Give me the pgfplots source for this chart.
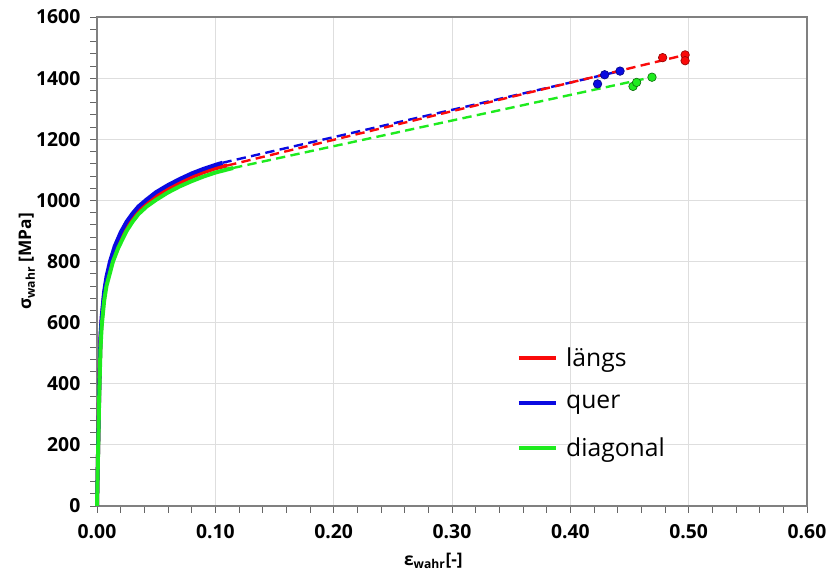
\documentclass[border=0pt]{standalone}
\usepackage{pgfplots}
\pgfplotsset{compat=1.18}
\usepackage{fontspec}
\setmainfont{Open Sans}
\definecolor{cred}{RGB}{250,10,10}
\definecolor{cblue}{RGB}{10,10,225}
\definecolor{cgreen}{RGB}{30,235,30}
\begin{document}
\begin{tikzpicture}
\begin{axis}[
  scale only axis, width=532.5pt, height=366.75pt,
  xmin=0, xmax=0.6, ymin=0, ymax=1600,
  xtick={0,0.1,...,0.6}, ytick={0,200,...,1600},
  minor tick num=4,
  xtick pos=bottom, ytick pos=left,
  axis line style={black!50, line width=1pt},
  tick style={black!60, line width=0.6pt},
  tick align=outside,
  major tick length=5pt, minor tick length=5pt,
  grid=major, major grid style={black!13, line width=0.6pt},
  /pgf/number format/assume math mode=true,
  xticklabel style={/pgf/number format/fixed, /pgf/number format/precision=2, /pgf/number format/fixed zerofill, font=\fontsize{14.5}{16}\selectfont\bfseries, yshift=-5pt},
  yticklabel style={/pgf/number format/fixed, /pgf/number format/1000 sep={}, font=\fontsize{14.5}{16}\selectfont\bfseries, xshift=-4pt},
  scaled x ticks=false,
  xlabel={\bfseries ε\textsubscript{wahr}[-]},
  ylabel={\bfseries σ\textsubscript{wahr} [MPa]},
  label style={font=\fontsize{13}{15}\selectfont},
  xlabel style={xshift=-14pt, yshift=-4pt},
  ylabel style={yshift=-6pt},
  legend style={draw=none, fill=none, at={(rel axis cs:0.585,0.335)}, anchor=north west,
    font=\fontsize{18.5}{21}\selectfont, row sep=16pt,
    nodes={inner xsep=6pt}},
  legend cell align=left,
  legend image code/.code={\draw[line width=3.2pt] (0pt,0pt) -- (28pt,0pt);},
  clip=false,
]
% solid flow curves
\addplot[cred, line width=3pt] coordinates {(0,0)(0.002,400)(0.003,550)(0.004,610)(0.006,690)(0.008,740)(0.012,800)(0.016,845)(0.02,880)(0.025,918)(0.03,946)(0.035,970)(0.045,1000)(0.05,1014)(0.06,1038)(0.07,1058)(0.08,1076)(0.09,1092)(0.1,1105)(0.11,1114)};
\addplot[cblue, line width=3pt] coordinates {(0,0)(0.002,400)(0.003,560)(0.004,620)(0.006,700)(0.008,750)(0.011,800)(0.015,850)(0.02,895)(0.025,930)(0.03,957)(0.035,980)(0.042,1003)(0.05,1027)(0.06,1050)(0.07,1070)(0.08,1088)(0.09,1103)(0.1,1116)(0.106,1123)};
\addplot[cgreen, line width=3pt] coordinates {(0,0)(0.002,380)(0.003,520)(0.004,590)(0.006,670)(0.008,720)(0.0135,800)(0.018,845)(0.025,900)(0.03,930)(0.035,955)(0.042,980)(0.05,1002)(0.06,1026)(0.07,1046)(0.08,1063)(0.09,1078)(0.1,1091)(0.115,1106)};
\legend{längs,quer,diagonal}
% dashed extrapolations
\addplot[cgreen, line width=1.8pt, dash pattern=on 7pt off 4pt, forget plot] coordinates {(0.115,1106)(0.469,1403)};
\addplot[cblue, line width=1.8pt, dash pattern=on 7pt off 4pt, forget plot] coordinates {(0.106,1123)(0.442,1423)};
\addplot[cred, line width=1.8pt, dash pattern=on 7pt off 4pt, forget plot] coordinates {(0.11,1114)(0.497,1476)};
% fracture points
\addplot[only marks, mark=*, mark size=3.2pt, mark options={fill=cred, draw=cred!60!black, line width=0.5pt}, forget plot] coordinates {(0.497,1476)(0.497,1457)(0.478,1467)};
\addplot[only marks, mark=*, mark size=3.2pt, mark options={fill=cblue, draw=cblue!60!black, line width=0.5pt}, forget plot] coordinates {(0.423,1381)(0.429,1411)(0.442,1423)};
\addplot[only marks, mark=*, mark size=3.2pt, mark options={fill=cgreen, draw=cgreen!50!black, line width=0.5pt}, forget plot] coordinates {(0.453,1373)(0.456,1386)(0.469,1403)};
\end{axis}
\pgfresetboundingbox
\useasboundingbox ([shift={(-72.75pt,-49.5pt)}]current axis.south west) rectangle ([shift={(548.25pt,379.5pt)}]current axis.south west);
\end{tikzpicture}
\end{document}
